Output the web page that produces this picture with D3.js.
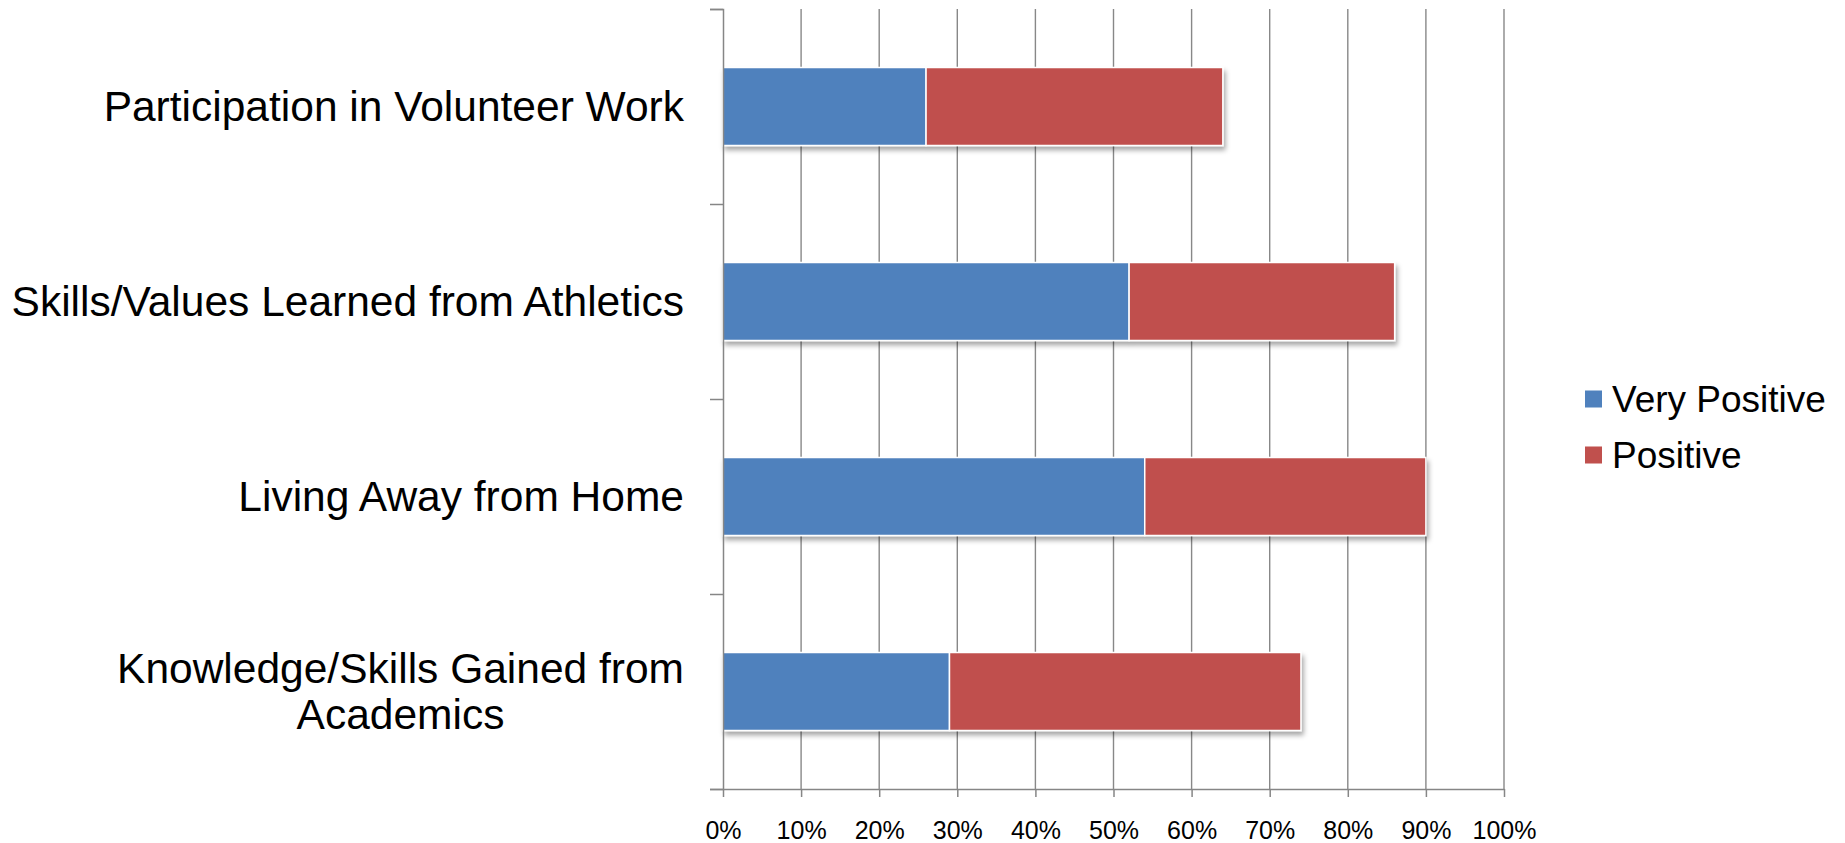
<!DOCTYPE html>
<html>
<head>
<meta charset="utf-8">
<script src="https://cdn.jsdelivr.net/npm/d3@7"></script>
<style>
  html, body { margin: 0; padding: 0; background: #ffffff; }
  svg { display: block; font-family: "Liberation Sans", Arial, sans-serif; }
</style>
</head>
<body>
<svg id="chart" width="1845" height="843"></svg>
<script>
// Survey categories (top to bottom) and how each label wraps
const categories = [
  "Participation in Volunteer Work",
  "Skills/Values Learned from Athletics",
  "Living Away from Home",
  "Knowledge/Skills Gained from Academics"
];
const categoryLines = [
  ["Participation in Volunteer Work"],
  ["Skills/Values Learned from Athletics"],
  ["Living Away from Home"],
  ["Knowledge/Skills Gained from", "Academics"]
];

// Share of respondents per rating
const seriesNames = ["Very Positive", "Positive"];
const veryPositive = [0.26, 0.52, 0.54, 0.29];
const positive = [0.38, 0.34, 0.36, 0.45];

// Axis ticks
const xTicks = [0, 0.1, 0.2, 0.3, 0.4, 0.5, 0.6, 0.7, 0.8, 0.9, 1.0];

const colors = ["#4F81BD", "#C0504D"];
const axisColor = "#868686";

const svg = d3.select("#chart");

const plot = { left: 723, right: 1504, top: 9, bottom: 789 };

const x = d3.scaleLinear().domain([0, 1]).range([plot.left, plot.right]);
const y = d3.scaleBand()
  .domain(categories)
  .range([plot.top, plot.bottom])
  .paddingInner(0.6)
  .paddingOuter(0.3);
// Boundaries between categories, used for the left axis ticks
const yEdge = d3.scaleLinear().domain([0, categories.length]).range([plot.bottom, plot.top]);

// Soft drop shadow under the bars
const defs = svg.append("defs");
const f = defs.append("filter").attr("id", "shadow")
  .attr("x", "-5%").attr("y", "-20%").attr("width", "115%").attr("height", "160%");
f.append("feDropShadow")
  .attr("dx", 2).attr("dy", 4).attr("stdDeviation", 2.5)
  .attr("flood-color", "#000").attr("flood-opacity", 0.35);

// Vertical gridlines
svg.append("g")
  .selectAll("line")
  .data(xTicks.filter(d => d > 0))
  .join("line")
  .attr("x1", d => x(d)).attr("x2", d => x(d))
  .attr("y1", plot.top).attr("y2", plot.bottom)
  .attr("stroke", "#888888").attr("stroke-width", 1.4);

// Stacked bars
const stackData = categories.map((c, i) => ({ cat: c, vp: veryPositive[i], p: positive[i] }));
const stack = d3.stack().keys(["vp", "p"])(stackData);

const barG = svg.append("g").attr("filter", "url(#shadow)");
stack.forEach((layer, k) => {
  barG.append("g")
    .selectAll("rect")
    .data(layer)
    .join("rect")
    .attr("x", d => x(d[0]))
    .attr("y", d => y(d.data.cat))
    .attr("width", d => x(d[1]) - x(d[0]))
    .attr("height", y.bandwidth())
    .attr("fill", colors[k])
    .attr("stroke", "#ffffff")
    .attr("stroke-width", 1.5);
});

// Left axis: line with ticks at category boundaries
const leftAxis = svg.append("g")
  .attr("transform", `translate(${plot.left},0)`)
  .call(d3.axisLeft(yEdge).tickValues(d3.range(categories.length + 1)).tickSize(13).tickFormat(""));
leftAxis.select(".domain").attr("stroke", axisColor).attr("stroke-width", 1.5);
leftAxis.selectAll(".tick line").attr("stroke", axisColor).attr("stroke-width", 1.5);

// Bottom axis with percentage labels
const bottomAxis = svg.append("g")
  .attr("transform", `translate(0,${plot.bottom})`)
  .call(d3.axisBottom(x).tickValues(xTicks).tickSizeInner(8).tickSizeOuter(0)
    .tickPadding(24).tickFormat(d3.format(".0%")));
bottomAxis.select(".domain").attr("stroke", axisColor).attr("stroke-width", 1.5);
bottomAxis.selectAll(".tick line").attr("stroke", axisColor).attr("stroke-width", 1.5);
bottomAxis.selectAll(".tick text")
  .attr("fill", "#000").attr("font-size", 25)
  .attr("font-family", "'Liberation Sans', Arial, sans-serif");

// Category labels, right-aligned block; wrapped lines centred within the block
const labelRight = 684;
const labelSize = 42.5;
const lineHeight = 46;
const labelG = svg.append("g");
categories.forEach((c, i) => {
  const lines = categoryLines[i];
  const cy = y(c) + y.bandwidth() / 2;
  const t = labelG.append("text")
    .attr("font-size", labelSize)
    .attr("fill", "#000");
  lines.forEach((ln, j) => {
    t.append("tspan")
      .attr("y", cy + (j - (lines.length - 1) / 2) * lineHeight)
      .attr("dy", "0.35em")
      .text(ln);
  });
  if (lines.length === 1) {
    t.attr("text-anchor", "end").selectAll("tspan").attr("x", labelRight);
  } else {
    const widths = [];
    t.selectAll("tspan").each(function () { widths.push(this.getComputedTextLength()); });
    const maxW = d3.max(widths);
    t.attr("text-anchor", "middle").selectAll("tspan").attr("x", labelRight - maxW / 2);
  }
});

// Legend
const legend = svg.append("g");
const legendY = [399, 455];
seriesNames.forEach((name, k) => {
  legend.append("rect")
    .attr("x", 1585).attr("y", legendY[k] - 8.5)
    .attr("width", 17).attr("height", 17)
    .attr("fill", colors[k]);
  legend.append("text")
    .attr("x", 1612).attr("y", legendY[k]).attr("dy", "0.35em")
    .attr("font-size", 37).attr("fill", "#000")
    .text(name);
});
</script>
</body>
</html>
